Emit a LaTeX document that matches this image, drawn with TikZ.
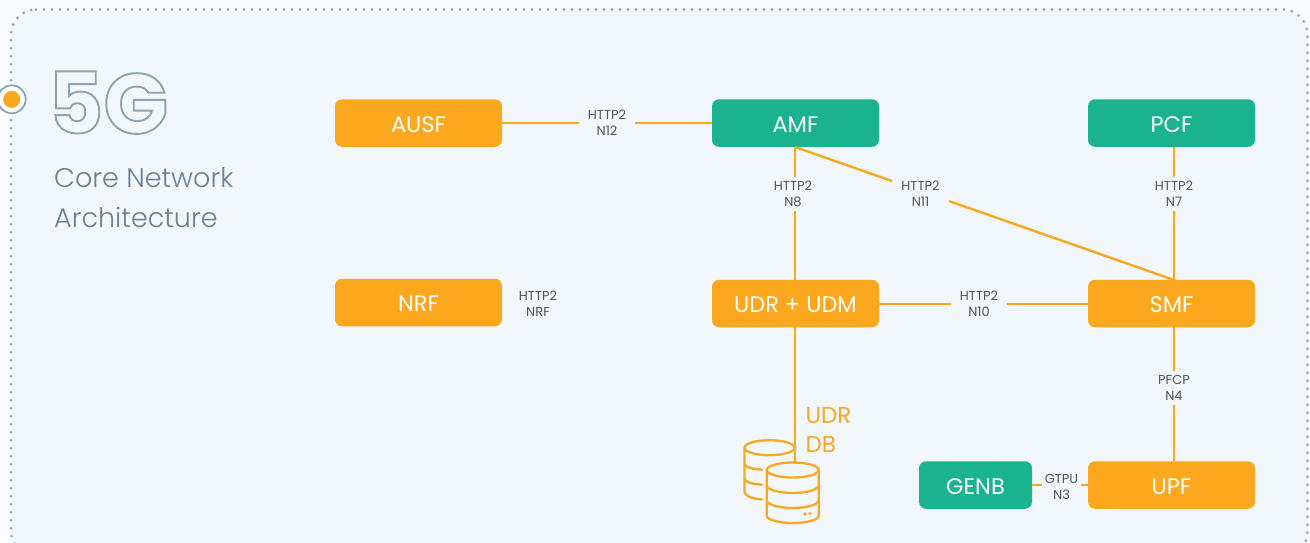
\documentclass[tikz,border=0pt]{standalone}
\usepackage{fontspec}
\setmainfont{Poppins}
\newfontfamily\thinf{Poppins Light}
\definecolor{bgin}{HTML}{F2F7FB}
\definecolor{bgout}{HTML}{FAFDFE}
\definecolor{orangeb}{HTML}{FBA81E}
\definecolor{greenb}{HTML}{1BB28F}
\definecolor{edgec}{HTML}{8CA3B5}
\definecolor{headc}{HTML}{6B8296}
\definecolor{labc}{HTML}{4B5563}
\tikzset{
  nf/.style={rounded corners=7pt,minimum height=47.5pt,inner sep=0pt,text=white,font=\fontsize{22.5}{24}\selectfont,anchor=center,text height=18pt,text depth=0pt},
  orangebox/.style={nf,fill=orangeb,minimum width=167pt},
  greenbox/.style={nf,fill=greenb,minimum width=167pt},
  conn/.style={draw=orangeb,line width=2.4pt},
  lab/.style={fill=bgin,text=labc,font=\fontsize{13}{16}\selectfont,align=center,inner xsep=9pt,inner ysep=4pt},
  dbline/.style={draw=orangeb,line width=2.3pt,line cap=round,line join=round},
}
\begin{document}
\begin{tikzpicture}[x=1pt,y=-1pt]
\useasboundingbox (0,0) rectangle (1310,542);
\fill[bgout] (0,0) rectangle (1310,542);
\begin{scope}
\clip (0,0) rectangle (1310,542);
\path[fill=bgin] (11,9.5) [rounded corners=25pt] -- (1307.5,9.5) -- (1307.5,557) -- (11,557) -- cycle;
\draw[edgec,line width=3pt,line cap=round,dash pattern=on 0pt off 8pt,rounded corners=25pt] (36,9.5) -- (1307.5,9.5) -- (1307.5,557) -- (11,557) -- (11,9.5) -- (36,9.5);
\end{scope}
% marker
\node[circle,draw=edgec,line width=1.8pt,fill=white,minimum size=28pt,inner sep=0pt] (mk) at (11.7,99.3) {};
\node[circle,fill=orangeb,minimum size=17pt,inner sep=0pt] (mkdot) at (11.7,99.3) {};
% heading
\node[anchor=base west,inner sep=0pt,font=\fontsize{85}{90}\selectfont\bfseries,text=bgin] (five) at (48,133.5) {\special{pdf:code q 1 Tr 0.55 0.64 0.71 RG 1.9 w}5G\special{pdf:code Q}};
\node[anchor=base west,inner sep=0pt,text=headc,font=\thinf\fontsize{27}{40}\selectfont] (h1) at (54,187) {Core Network};
\node[anchor=base west,inner sep=0pt,text=headc,font=\thinf\fontsize{27}{40}\selectfont] (h2) at (54,227) {Architecture};
% boxes
\node[orangebox] (ausf) at (418.5,123) {AUSF};
\node[greenbox] (amf) at (795.5,123) {AMF};
\node[greenbox] (pcf) at (1171.5,123) {PCF};
\node[orangebox] (nrf) at (418.5,302.5) {NRF};
\node[orangebox] (udr) at (795.5,303.5) {UDR + UDM};
\node[orangebox] (smf) at (1171.5,303.5) {SMF};
\node[greenbox,minimum width=113pt] (genb) at (975.5,485) {GENB};
\node[orangebox] (upf) at (1171.5,485) {UPF};
% connector anchors
\coordinate (pcfb) at (1174,147);
\coordinate (smft) at (1174,280);
\coordinate (smfb) at (1174,327);
\coordinate (upft) at (1174,461);
\coordinate (amfl) at (712,123);
\coordinate (ausfr) at (502,123);
\coordinate (amfb) at (795,147);
\coordinate (udrt) at (795,280);
\coordinate (udrb) at (795,327);
\coordinate (udrr) at (879,304);
\coordinate (smfl) at (1088,304);
\coordinate (dbtop) at (795,463);
% connectors
\draw[conn] (ausfr) -- (amfl);
\node[lab] (l12) at (607,123) {HTTP2\\N12};
\draw[conn] (amfb) -- (udrt);
\node[lab] (l8) at (793,194) {HTTP2\\N8};
\draw[conn] (amfb) -- (smft);
\node[lab] (l11) at (920.5,194) {HTTP2\\N11};
\draw[conn] (pcfb) -- (smft);
\node[lab] (l7) at (1174,194) {HTTP2\\N7};
\draw[conn] (udrr) -- (smfl);
\node[lab] (l10) at (979,304) {HTTP2\\N10};
\draw[conn] (smfb) -- (upft);
\node[lab] (l4) at (1174,388) {PFCP\\N4};
\draw[conn] (genb.east) -- (upf.west);
\node[lab,inner xsep=3pt] (l3) at (1061.5,487) {GTPU\\N3};
\draw[conn] (udrb) -- (dbtop);
\node[lab,fill=none] (lnrf) at (538,304) {HTTP2\\NRF};
\node[anchor=base west,inner sep=0pt,text=orangeb,font=\fontsize{23}{29}\selectfont] (udb1) at (805.5,423) {UDR};
\node[anchor=base west,inner sep=0pt,text=orangeb,font=\fontsize{23}{29}\selectfont] (udb2) at (805.5,452) {DB};
% database icon
\draw[dbline] (769.5,447.7) ellipse (25 and 7.5);
\draw[dbline] (744.5,447.7) -- (744.5,492) .. controls (745,496) and (752,498.5) .. (762,499.5);
\draw[dbline] (744.5,464) .. controls (745,467) and (752,469) .. (762,469.7);
\draw[dbline] (744.5,479) .. controls (745,482) and (752,484) .. (762,484.7);
\draw[dbline,fill=bgin] (766.7,470) -- (766.7,516) .. controls (767,520) and (780,523) .. (792.7,523) .. controls (806,523) and (818.7,520) .. (818.7,516) -- (818.7,470) -- cycle;
\draw[dbline,fill=bgin] (792.7,470) ellipse (26 and 7.5);
\draw[dbline] (766.7,486) .. controls (768,490) and (780,493) .. (792.7,493) .. controls (806,493) and (817,490) .. (818.7,486);
\draw[dbline] (766.7,501) .. controls (768,505) and (780,508) .. (792.7,508) .. controls (806,508) and (817,505) .. (818.7,501);
\fill[orangeb] (805,514) circle (1.8) (810,513.6) circle (1.8);
\end{tikzpicture}
\end{document}
